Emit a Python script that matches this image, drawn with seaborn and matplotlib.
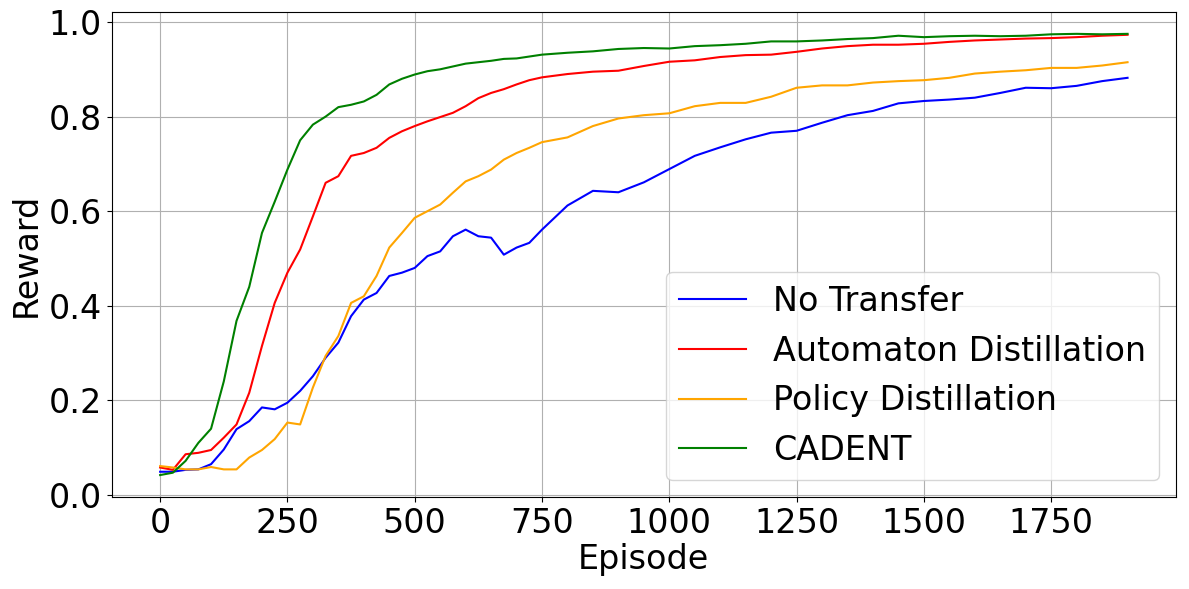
import matplotlib
matplotlib.use("Agg")
import matplotlib.pyplot as plt
import pandas as pd
import seaborn as sns

episodes = [0, 25, 50, 75, 100, 125, 150, 175, 200, 225, 250, 275, 300, 325, 350,
            375, 400, 425, 450, 475, 500, 525, 550, 575, 600, 625, 650, 675, 700,
            725, 750, 800, 850, 900, 950, 1000, 1050, 1100, 1150, 1200, 1250, 1300,
            1350, 1400, 1450, 1500, 1550, 1600, 1650, 1700, 1750, 1800, 1850, 1900]

no_transfer = [0.049, 0.049, 0.053, 0.054, 0.065, 0.096, 0.139, 0.156, 0.185, 0.181,
               0.195, 0.220, 0.251, 0.290, 0.322, 0.378, 0.413, 0.427, 0.463, 0.470,
               0.480, 0.505, 0.515, 0.547, 0.561, 0.547, 0.544, 0.508, 0.523, 0.533,
               0.561, 0.612, 0.643, 0.640, 0.661, 0.689, 0.717, 0.735, 0.752, 0.766,
               0.770, 0.787, 0.803, 0.812, 0.828, 0.833, 0.836, 0.840, 0.850, 0.861,
               0.860, 0.865, 0.875, 0.882]

automaton = [0.058, 0.053, 0.086, 0.089, 0.095, 0.121, 0.149, 0.216, 0.315, 0.406,
             0.470, 0.519, 0.589, 0.660, 0.674, 0.717, 0.723, 0.734, 0.755, 0.769,
             0.780, 0.790, 0.799, 0.808, 0.822, 0.839, 0.850, 0.858, 0.868, 0.877,
             0.883, 0.890, 0.895, 0.897, 0.907, 0.916, 0.919, 0.926, 0.930, 0.931,
             0.937, 0.944, 0.949, 0.952, 0.952, 0.954, 0.958, 0.961, 0.963, 0.965,
             0.966, 0.968, 0.971, 0.973]

policy = [0.061, 0.058, 0.054, 0.054, 0.059, 0.054, 0.054, 0.079, 0.095, 0.118,
          0.153, 0.149, 0.227, 0.294, 0.336, 0.406, 0.420, 0.463, 0.523, 0.554,
          0.586, 0.600, 0.614, 0.639, 0.663, 0.674, 0.688, 0.709, 0.723, 0.734,
          0.746, 0.756, 0.780, 0.796, 0.803, 0.807, 0.822, 0.829, 0.829, 0.842,
          0.861, 0.866, 0.866, 0.872, 0.875, 0.877, 0.882, 0.891, 0.895, 0.898,
          0.903, 0.903, 0.908, 0.915]

cadent = [0.042, 0.047, 0.072, 0.110, 0.140, 0.240, 0.368, 0.440, 0.554, 0.620,
          0.688, 0.750, 0.783, 0.800, 0.820, 0.825, 0.832, 0.846, 0.868, 0.880,
          0.889, 0.896, 0.900, 0.906, 0.912, 0.915, 0.918, 0.922, 0.923, 0.927,
          0.931, 0.935, 0.938, 0.943, 0.945, 0.944, 0.949, 0.951, 0.954, 0.959,
          0.959, 0.961, 0.964, 0.966, 0.971, 0.968, 0.970, 0.971, 0.970, 0.971,
          0.974, 0.975, 0.974, 0.975]

series = {
    "No Transfer": no_transfer,
    "Automaton Distillation": automaton,
    "Policy Distillation": policy,
    "CADENT": cadent,
}
colors = {
    "No Transfer": "blue",
    "Automaton Distillation": "red",
    "Policy Distillation": "orange",
    "CADENT": "green",
}

rows = []
for name, vals in series.items():
    for ep, v in zip(episodes, vals):
        rows.append({"Episode": ep, "Reward": v, "method": name})
df = pd.DataFrame(rows)

plt.rcParams["font.size"] = 24
fig, ax = plt.subplots(figsize=(11.89, 5.89), dpi=100)
sns.lineplot(data=df, x="Episode", y="Reward", hue="method", palette=colors,
             hue_order=list(series), ax=ax, linewidth=1.5)
ax.grid(True, color="#b0b0b0", linewidth=0.8)
ax.set_xlabel("Episode", fontsize=24, labelpad=2)
ax.set_ylabel("Reward", fontsize=24)
ax.tick_params(labelsize=24)
ax.set_xticks([0, 250, 500, 750, 1000, 1250, 1500, 1750])
ax.legend(title=None, loc="lower right", fontsize=24)

fig.subplots_adjust(left=0.094, right=0.989, top=0.980, bottom=0.156)
fig.savefig("out.png", dpi=100)
